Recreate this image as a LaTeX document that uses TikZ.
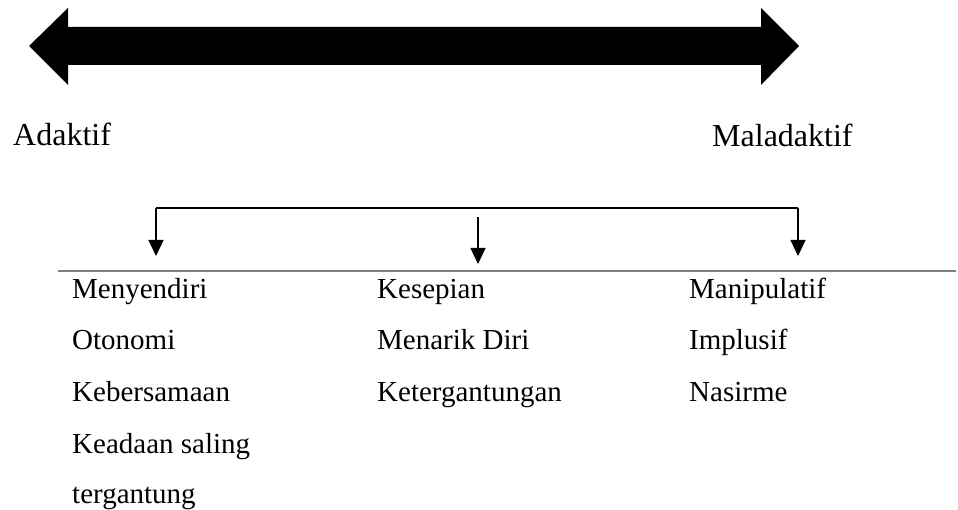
\documentclass[tikz,border=0pt]{standalone}
\usepackage{fontspec}
\setmainfont{Liberation Serif}
\usetikzlibrary{arrows.meta}

\tikzset{
  pole/.style={inner sep=0pt, anchor=base west, font=\fontsize{32}{38}\selectfont},
  item/.style={inner sep=0pt, anchor=base west, font=\fontsize{29}{34}\selectfont},
  branch/.style={line width=1.2pt, -{Triangle[width=15pt,length=16pt]}},
}

\begin{document}
\begin{tikzpicture}[x=1pt, y=-1pt]
  \useasboundingbox (0,0) rectangle (958,510);

  %% the big double arrow between both ends of the scale
  \fill (29,46) -- (68,8) -- (68,27) -- (761,27) -- (761,8) -- (799,46)
    -- (761,85) -- (761,65) -- (68,65) -- (68,85) -- cycle;

  \node [pole] (adaktif) at (13,146) {Adaktif};
  \node [pole] (maladaktif) at (712,147) {Maladaktif};

  %% bracket with three arrows down to the columns
  \coordinate (bl) at (156,208);
  \coordinate (br) at (798,208);
  \coordinate (mid top) at (478,217);
  \coordinate (left tip) at (156,256);
  \coordinate (mid tip) at (478,264);
  \coordinate (right tip) at (798,256);
  \draw [line width=1.2pt] (bl) -- (br);
  \draw [branch] (bl) -- (left tip);
  \draw [branch] (br) -- (right tip);
  \draw [branch] (mid top) -- (mid tip);

  %% the rule over the lists
  \coordinate (rule start) at (58,271);
  \coordinate (rule end) at (956,271);
  \draw [gray, line width=1.5pt] (rule start) -- (rule end);

  \node [item] (menyendiri) at (72,299) {Menyendiri};
  \node [item] (otonomi) at (72,350) {Otonomi};
  \node [item] (kebersamaan) at (72,401) {Kebersamaan};
  \node [item] (keadaan) at (72,453) {Keadaan saling};
  \node [item] (tergantung) at (72,503) {tergantung};

  \node [item] (kesepian) at (377,299) {Kesepian};
  \node [item] (menarik) at (377,350) {Menarik Diri};
  \node [item] (ketergantungan) at (377,401) {Ketergantungan};

  \node [item] (manipulatif) at (689,299) {Manipulatif};
  \node [item] (implusif) at (689,350) {Implusif};
  \node [item] (nasirme) at (689,401) {Nasirme};
\end{tikzpicture}
\end{document}
